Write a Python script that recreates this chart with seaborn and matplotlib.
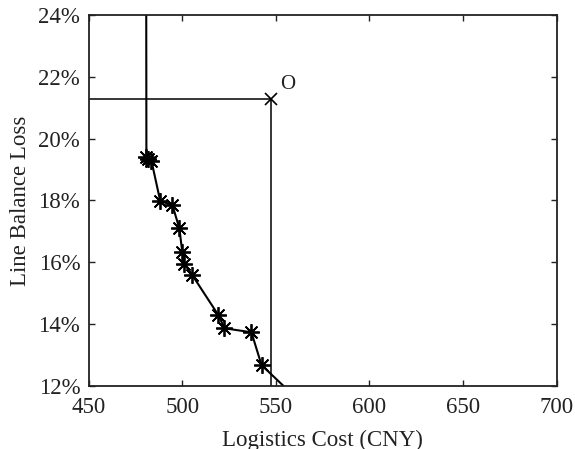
import numpy as np
import pandas as pd
import matplotlib
matplotlib.use("Agg")
import matplotlib.pyplot as plt
import seaborn as sns
from matplotlib.ticker import FuncFormatter

# Pareto front (logistics cost, line balance loss %)
cost = [480.8, 480.9, 481.8, 483.6, 488.3, 494.8, 498.5, 500.1, 501.2, 505.5,
        519.4, 522.6, 537.0, 542.4, 556.0]
loss = [25.0, 19.42, 19.35, 19.28, 17.98, 17.85, 17.10, 16.32, 15.95, 15.58,
        14.29, 13.87, 13.74, 12.68, 11.9]
is_marker = [False, True, True, True, True, True, True, True, True, True,
             True, True, True, True, False]

# reference point O
o_cost = 547.3
o_loss = 21.28

df = pd.DataFrame({"cost": cost, "loss": loss, "marked": is_marker})

sns.set_theme(style="white")
plt.rcParams['font.family'] = ['Liberation Serif', 'DejaVu Serif']

fig = plt.figure(figsize=(5.75, 4.49), dpi=100)
ax = fig.add_axes([0.154, 0.14, 0.814, 0.827])

sns.lineplot(data=df, x="cost", y="loss", sort=False, estimator=None,
             color="black", linewidth=1.5, ax=ax)
pts = df[df["marked"]]
ax.plot(pts["cost"], pts["loss"], linestyle="none", marker=(8, 2, 0),
        markersize=12, markeredgewidth=1.3, color="black")

# lines through O
ax.plot([450, o_cost], [o_loss, o_loss], color="black", linewidth=1.1)
ax.plot([o_cost, o_cost], [o_loss, 11], color="black", linewidth=1.1)
ax.plot([o_cost], [o_loss], marker="x", markersize=8, markeredgewidth=1.2,
        color="black", linestyle="none")
ax.text(o_cost + 5, o_loss + 0.15, "O", fontsize=15, color="#222222",
        ha="left", va="bottom")

ax.set_xlim(450, 700)
ax.set_ylim(12, 24)
ax.set_xticks([450, 500, 550, 600, 650, 700])
ax.set_yticks([12, 14, 16, 18, 20, 22, 24])
ax.yaxis.set_major_formatter(FuncFormatter(lambda v, p: f"{v:.0f}%"))
ax.tick_params(direction="in", length=4, width=1, colors="#222222",
               labelsize=16.5, top=True, right=True, bottom=True, left=True,
               pad=6)
ax.tick_params(axis="x", pad=8)
for s in ax.spines.values():
    s.set_color("#222222")
    s.set_linewidth(1.3)
ax.set_xlabel("Logistics Cost (CNY)", fontsize=16.5, color="#222222", labelpad=8)
ax.set_ylabel("Line Balance Loss", fontsize=16.5, color="#222222", labelpad=5)

fig.savefig("out.png", dpi=100)
